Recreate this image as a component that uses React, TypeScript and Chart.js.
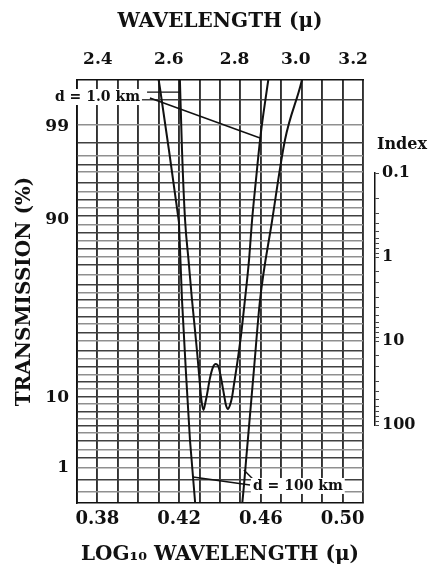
import React, { useEffect, useRef } from 'react';
import { Chart, registerables } from 'chart.js';

Chart.register(...registerables);

const FONT = "'DejaVu Serif', 'Liberation Serif', serif";
const INK = '#111';

// ---- axis ticks ----
const LOG_WL_GRID = [0.37, 0.38, 0.39, 0.40, 0.41, 0.42, 0.43, 0.44, 0.45, 0.46, 0.47, 0.48, 0.49, 0.50, 0.51];
const LOG_WL_LABELS = [0.38, 0.42, 0.46, 0.50];
const WL_LABELS = [2.4, 2.6, 2.8, 3.0, 3.2];
const TRANS_LABELS = [99, 90, 10, 1];
const TRANS_AT_INDEX = [0.0283, 0.363, 47.7, 325];
const INDEX_LABELS = [0.1, 1, 10, 100];
const HGRID_INDEX = [
  0.0135, 0.0268, 0.0439, 0.0628, 0.0803, 0.0973, 0.1315, 0.168, 0.209, 0.261,
  0.325, 0.416, 0.518, 0.645, 0.804, 1.0, 1.245, 1.64, 2.15, 2.68, 3.25, 4.05,
  5.18, 6.28, 8.03, 10.0, 13.2, 16.4, 20.4, 25.4, 30.8, 37.3, 46.4, 56.2, 70.0,
  84.8, 103, 124.5, 155, 198.5, 247, 325, 452, 628,
];

// ---- curves (x: log10 wavelength, y: index) ----
const D1_X = [0.4203, 0.4214, 0.4229, 0.4246, 0.4263, 0.4287, 0.4302, 0.4309, 0.4319, 0.4329, 0.4336, 0.4351, 0.4366, 0.4379, 0.4393, 0.4405, 0.4420, 0.4429, 0.4439, 0.4449, 0.4459, 0.4468, 0.4483, 0.4503, 0.4522, 0.4542, 0.4557, 0.4576, 0.4596, 0.4615, 0.4640];
const D1_Y = [0.0068, 0.0532, 0.363, 1.09, 3.25, 12.8, 33.4, 50.4, 66.3, 53.2, 44.0, 27.6, 20.4, 18.8, 20.4, 27.6, 44.0, 57.8, 64.5, 57.8, 46.4, 33.4, 19.3, 8.49, 3.25, 1.09, 0.363, 0.121, 0.0405, 0.0178, 0.0068];

const D100L_X = [0.4096, 0.4106, 0.4150, 0.4199, 0.4214, 0.4234, 0.4253, 0.4278, 0.4282];
const D100L_Y = [0.0068, 0.00973, 0.0532, 0.383, 3.25, 25.4, 151, 826, 1086];

const D100R_X = [0.4503, 0.4508, 0.4532, 0.4566, 0.4596, 0.4654, 0.4718, 0.4801, 0.4806];
const D100R_Y = [1086, 896, 198, 22.1, 3.25, 0.383, 0.0405, 0.0078, 0.0068];

// ---- label leader lines ----
const LEAD_1A_X = [0.4043, 0.4207];
const LEAD_1A_Y = [0.0109, 0.0109];
const LEAD_1B_X = [0.4057, 0.4596];
const LEAD_1B_Y = [0.0128, 0.0383];
const LEAD_2A_X = [0.4268, 0.4547];
const LEAD_2A_Y = [416, 518];
const LEAD_2B_X = [0.4517, 0.4566];
const LEAD_2B_Y = [343, 452];

const pts = (xs: number[], ys: number[]) => xs.map((x, i) => ({ x, y: ys[i] }));

const Y_MIN = 0.00781;
const Y_MAX = 848.5;
const X_MIN = 0.37;
const X_MAX = 0.51;

const CURVE_LABELS = [
  { text: 'd = 1.0 km', x: 0.3592, y: 0.01245 },
  { text: 'd = 100 km', x: 0.4561, y: 532 },
];

const labelPlugin = {
  id: 'curveLabels',
  afterDatasetsDraw(chart: any) {
    const { ctx } = chart;
    const xs = chart.scales.x;
    const ys = chart.scales.y;
    ctx.save();
    ctx.font = `bold 14px ${FONT}`;
    ctx.textBaseline = 'middle';
    ctx.textAlign = 'left';
    for (const a of CURVE_LABELS) {
      const px = xs.getPixelForValue(a.x);
      const py = ys.getPixelForValue(a.y);
      const w = ctx.measureText(a.text).width;
      ctx.fillStyle = '#fff';
      ctx.fillRect(px - 2, py - 8, w + 4, 16);
      ctx.fillStyle = INK;
      ctx.fillText(a.text, px, py);
    }
    ctx.restore();
  },
};

const bgPlugin = {
  id: 'whiteBg',
  beforeDraw(chart: any) {
    const { ctx, width, height } = chart;
    ctx.save();
    ctx.fillStyle = '#fff';
    ctx.fillRect(0, 0, width, height);
    ctx.restore();
  },
};

const near = (a: number, b: number) => Math.abs(a - b) < 1e-6;

export default function App() {
  const ref = useRef<HTMLCanvasElement | null>(null);

  useEffect(() => {
    document.body.style.margin = '0';
    const canvas = ref.current;
    if (!canvas) return;

    const curve = (data: any[], smooth: boolean) => ({
      data,
      showLine: true,
      borderColor: INK,
      borderWidth: 2,
      pointRadius: 0,
      cubicInterpolationMode: smooth ? 'monotone' : 'default',
      tension: 0,
      xAxisID: 'x',
      yAxisID: 'y',
    });
    const leader = (data: any[]) => ({
      data,
      showLine: true,
      borderColor: INK,
      borderWidth: 1.4,
      pointRadius: 0,
      xAxisID: 'x',
      yAxisID: 'y',
    });

    const hidden = {
      grid: { display: false, drawTicks: false },
      ticks: { display: false },
      border: { display: false },
    };

    const chart = new Chart(canvas, {
      type: 'scatter',
      data: {
        datasets: [
          { label: 'd = 1.0 km', ...curve(pts(D1_X, D1_Y), true) },
          { label: 'd = 100 km (short)', ...curve(pts(D100L_X, D100L_Y), false) },
          { label: 'd = 100 km (long)', ...curve(pts(D100R_X, D100R_Y), true) },
          { label: 'lead1a', ...leader(pts(LEAD_1A_X, LEAD_1A_Y)) },
          { label: 'lead1b', ...leader(pts(LEAD_1B_X, LEAD_1B_Y)) },
          { label: 'lead2a', ...leader(pts(LEAD_2A_X, LEAD_2A_Y)) },
          { label: 'lead2b', ...leader(pts(LEAD_2B_X, LEAD_2B_Y)) },
        ] as any,
      },
      options: {
        responsive: false,
        animation: false,
        devicePixelRatio: 1,
        events: [],
        layout: { padding: 0 },
        plugins: {
          legend: { display: false },
          tooltip: { enabled: false },
        },
        scales: {
          x: {
            type: 'linear',
            position: 'bottom',
            min: X_MIN,
            max: X_MAX,
            afterBuildTicks: (s: any) => {
              s.ticks = LOG_WL_GRID.map((v) => ({ value: v }));
            },
            afterFit: (s: any) => {
              s.height = 73;
            },
            ticks: {
              autoSkip: false,
              maxRotation: 0,
              padding: 6,
              color: INK,
              font: { family: FONT, size: 18, weight: 'bold' },
              callback: (v: any) =>
                LOG_WL_LABELS.some((l) => near(l, Number(v))) ? Number(v).toFixed(2) : '',
            },
            grid: { color: '#303030', lineWidth: 1.9, drawTicks: false },
            border: { display: true, color: INK, width: 1.6 },
            title: {
              display: true,
              text: 'LOG\u2081\u2080 WAVELENGTH (\u03BC)',
              color: INK,
              font: { family: FONT, size: 20, weight: 'bold' },
              padding: { top: 0, bottom: 9 },
            },
          },
          x2: {
            type: 'linear',
            position: 'top',
            min: X_MIN,
            max: X_MAX,
            afterBuildTicks: (s: any) => {
              s.ticks = WL_LABELS.map((w) => ({ value: Math.log10(w) }));
            },
            afterFit: (s: any) => {
              s.height = 80;
            },
            ticks: {
              autoSkip: false,
              maxRotation: 0,
              padding: 10,
              color: INK,
              font: { family: FONT, size: 17, weight: 'bold' },
              callback: (_v: any, i: number) => WL_LABELS[i].toFixed(1),
            },
            grid: { display: false, drawTicks: false },
            border: { display: true, color: INK, width: 1.6 },
            title: {
              display: true,
              text: 'WAVELENGTH (\u03BC)',
              color: INK,
              font: { family: FONT, size: 20, weight: 'bold' },
              padding: { top: 10, bottom: 0 },
            },
          },
          y: {
            type: 'logarithmic',
            position: 'left',
            min: Y_MIN,
            max: Y_MAX,
            reverse: true,
            afterBuildTicks: (s: any) => {
              s.ticks = TRANS_AT_INDEX.map((v) => ({ value: v }));
            },
            afterFit: (s: any) => {
              s.width = 77;
            },
            ticks: {
              autoSkip: false,
              padding: 8,
              color: INK,
              font: { family: FONT, size: 17, weight: 'bold' },
              callback: (_v: any, i: number) => String(TRANS_LABELS[i]),
            },
            grid: { display: false, drawTicks: false },
            border: { display: true, color: INK, width: 1.6 },
            title: {
              display: true,
              text: 'TRANSMISSION (%)',
              color: INK,
              font: { family: FONT, size: 20, weight: 'bold' },
              padding: { top: 13, bottom: 0 },
            },
          },
          yg: {
            type: 'logarithmic',
            position: 'left',
            min: Y_MIN,
            max: Y_MAX,
            reverse: true,
            afterBuildTicks: (s: any) => {
              s.ticks = HGRID_INDEX.map((v) => ({ value: v }));
            },
            afterFit: (s: any) => {
              s.width = 0;
            },
            ticks: { display: false },
            border: { display: false },
            grid: {
              drawTicks: false,
              lineWidth: 1.5,
              color: (c: any) => (c.index % 2 === 0 ? '#404040' : '#8f8f8f'),
            },
          },
          rsp: {
            type: 'linear',
            position: 'right',
            weight: 0,
            min: 0,
            max: 1,
            ...hidden,
            afterFit: (s: any) => {
              s.width = 12;
            },
          },
          rt: {
            type: 'linear',
            position: 'right',
            stack: 'idx',
            stackWeight: 93,
            weight: 1,
            min: 0,
            max: 1,
            reverse: true,
            afterBuildTicks: (s: any) => {
              s.ticks = [{ value: 0.7 }];
            },
            afterFit: (s: any) => {
              s.width = 62;
            },
            grid: { display: false, drawTicks: false },
            border: { display: false },
            ticks: {
              padding: 2,
              color: INK,
              font: { family: FONT, size: 16, weight: 'bold' },
              callback: () => 'Index',
            },
          },
          ri: {
            type: 'logarithmic',
            position: 'right',
            stack: 'idx',
            stackWeight: 252,
            weight: 1,
            min: 0.1,
            max: 100,
            reverse: true,
            afterFit: (s: any) => {
              s.width = 62;
            },
            grid: {
              drawOnChartArea: false,
              drawTicks: true,
              tickLength: 4,
              color: '#444',
              lineWidth: 1,
            },
            border: { display: true, color: INK, width: 1.5 },
            ticks: {
              autoSkip: false,
              padding: 3,
              color: INK,
              font: { family: FONT, size: 16, weight: 'bold' },
              callback: (v: any) => {
                const n = Number(v);
                const hit = INDEX_LABELS.find((l) => Math.abs(l - n) < l * 1e-6);
                return hit !== undefined ? String(hit) : '';
              },
            },
          },
          rb: {
            type: 'linear',
            position: 'right',
            stack: 'idx',
            stackWeight: 78,
            weight: 1,
            min: 0,
            max: 1,
            ...hidden,
            afterFit: (s: any) => {
              s.width = 62;
            },
          },
        } as any,
      },
      plugins: [bgPlugin, labelPlugin],
    });

    return () => chart.destroy();
  }, []);

  return (
    <div style={{ position: 'fixed', left: 0, top: 0, width: 437, height: 576, background: '#fff' }}>
      <canvas ref={ref} width={437} height={576} style={{ display: 'block' }} />
    </div>
  );
}
